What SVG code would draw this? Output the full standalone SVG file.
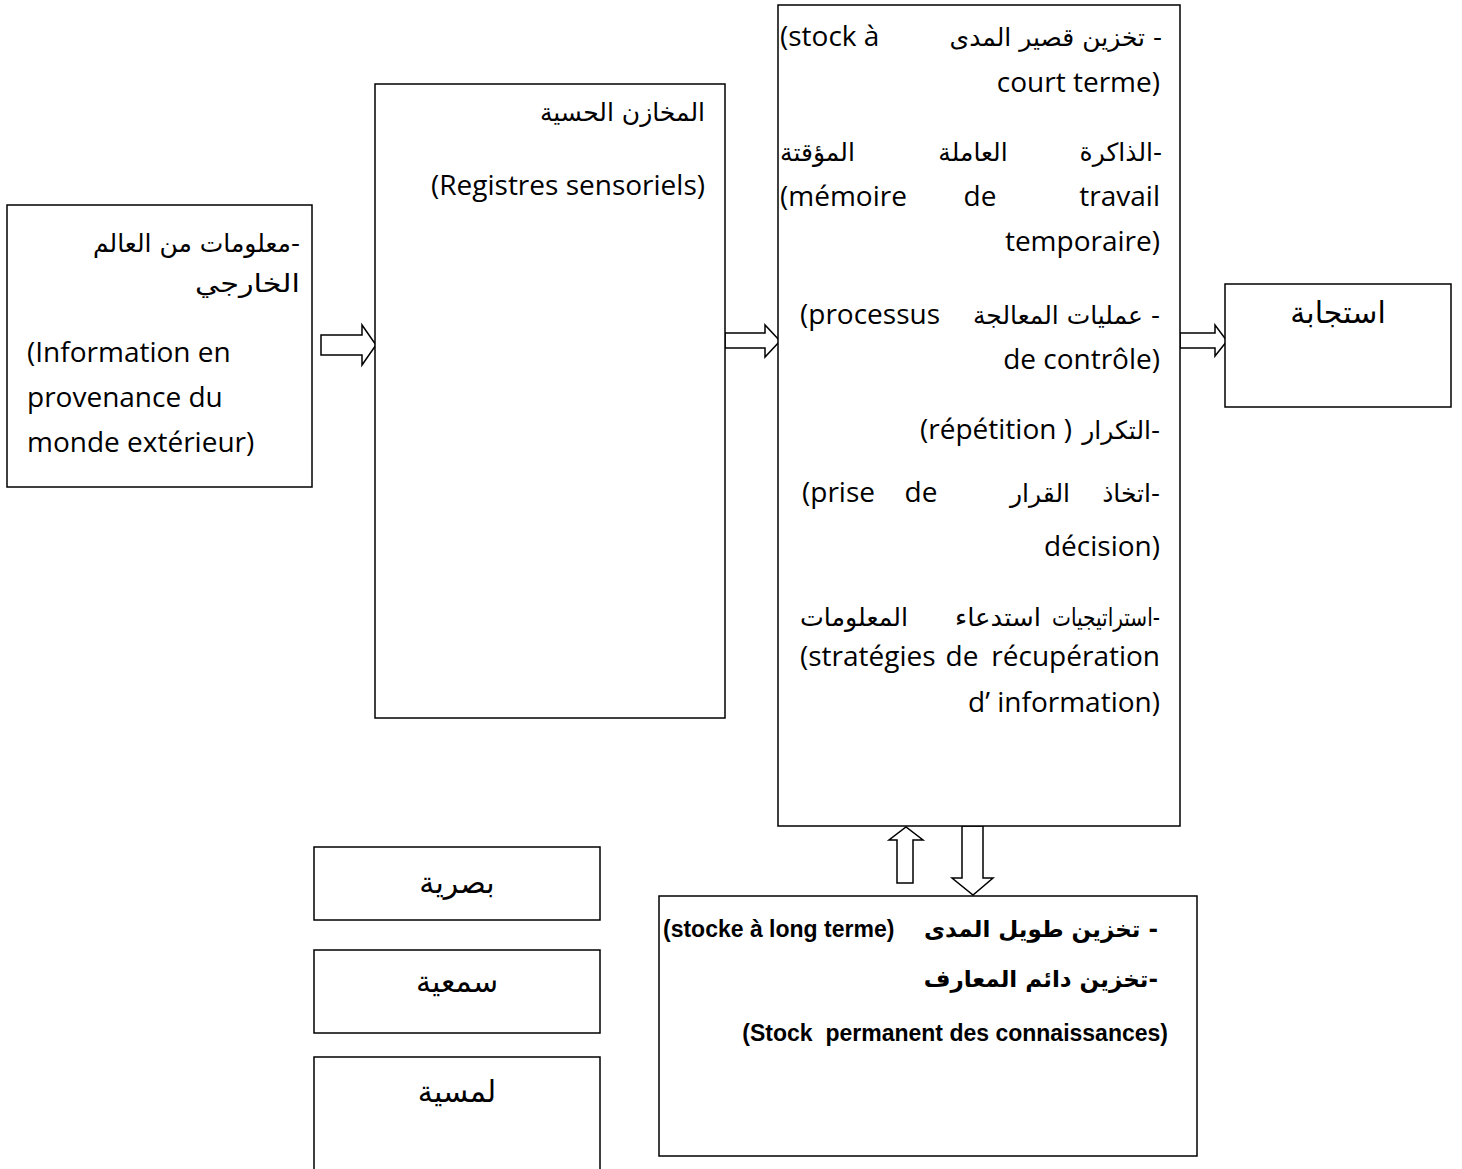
<svg xmlns="http://www.w3.org/2000/svg" width="1462" height="1169" viewBox="0 0 1462 1169">
<style>
.box{fill:#fff;stroke:#000;stroke-width:1.5}
.arr{fill:#fff;stroke:#000;stroke-width:1.5;stroke-linejoin:miter}
.la{font-family:"Open Sans","Liberation Sans",sans-serif;font-size:28px;fill:#000}
.ar{font-family:"DejaVu Sans",sans-serif;font-size:25px;fill:#000}
.arL{font-family:"DejaVu Sans",sans-serif;font-size:30px;fill:#000}
.bl{font-family:"Liberation Sans",Arial,sans-serif;font-size:23px;font-weight:bold;fill:#000}
.bar{font-family:"DejaVu Sans",sans-serif;font-size:23px;font-weight:bold;fill:#000}
.e{text-anchor:end}
.m{text-anchor:middle}
</style>
<rect width="1462" height="1169" fill="#fff"/>
<g id="connectors">
<polygon class="arr" points="321,335 362,335 362,325 376,345 362,365 362,355 321,355"/>
<polygon class="arr" points="725,333 765,333 765,325 780,341 765,357 765,348 725,348"/>
<polygon class="arr" points="1180,333 1215,333 1215,325 1227,341 1215,356 1215,348 1180,348"/>
<polygon class="arr" points="897,883 897,840 889,840 906,827 923,840 913,840 913,883"/>
<polygon class="arr" points="962,826 983,826 983,878 993,878 973,895 952,878 962,878"/>
</g>
<g id="node-info">
<rect class="box" x="7" y="205" width="305" height="282"/>
<text class="ar e" x="300" y="252">معلومات من العالم-</text>
<text class="ar e" x="300" y="292" textLength="105" lengthAdjust="spacingAndGlyphs">الخارجي</text>
<text class="la" x="27" y="362">(Information en</text>
<text class="la" x="27" y="407">provenance du</text>
<text class="la" x="27" y="452">monde extérieur)</text>
</g>
<g id="node-sensory">
<rect class="box" x="375" y="84" width="350" height="634"/>
<text class="ar e" x="705" y="121">المخازن الحسية</text>
<text class="la e" x="705" y="195">(Registres sensoriels)</text>
</g>
<g id="node-short-term">
<rect class="box" x="778" y="5" width="402" height="821"/>
<text class="la" x="780" y="46">(stock à</text>
<text class="ar e" x="1162" y="46">تخزين قصير المدى -</text>
<text class="la e" x="1160" y="92">court terme)</text>
<text class="ar" x="780" y="161">المؤقتة</text>
<text class="ar m" x="973" y="161">العاملة</text>
<text class="ar e" x="1162" y="161">الذاكرة-</text>
<text class="la" x="780" y="206">(mémoire</text>
<text class="la m" x="980" y="206">de</text>
<text class="la e" x="1160" y="206">travail</text>
<text class="la e" x="1160" y="251">temporaire)</text>
<text class="la" x="800" y="324">(processus</text>
<text class="ar e" x="1160" y="324">عمليات المعالجة -</text>
<text class="la e" x="1160" y="369">de contrôle)</text>
<text class="la" x="920" y="439">(répétition )</text>
<text class="ar e" x="1160" y="439">التكرار-</text>
<text class="la" x="802" y="502">(prise</text>
<text class="la m" x="921" y="502">de</text>
<text class="ar m" x="1040" y="502">القرار</text>
<text class="ar e" x="1160" y="502">اتخاذ-</text>
<text class="la e" x="1160" y="556">décision)</text>
<text class="ar" x="800" y="626" textLength="108" lengthAdjust="spacingAndGlyphs">المعلومات</text>
<text class="ar" x="955" y="626" textLength="86" lengthAdjust="spacingAndGlyphs">استدعاء</text>
<text class="ar" x="1052" y="626" textLength="108" lengthAdjust="spacingAndGlyphs">استراتيجيات-</text>
<text class="la" x="800" y="666">(stratégies</text>
<text class="la m" x="962" y="666">de</text>
<text class="la e" x="1160" y="666">récupération</text>
<text class="la e" x="1160" y="712">d’ information)</text>
</g>
<g id="node-response">
<rect class="box" x="1225" y="284" width="226" height="123"/>
<text class="arL m" x="1338" y="323">استجابة</text>
</g>
<g id="node-long-term">
<rect class="box" x="659" y="896" width="538" height="260"/>
<text class="bl" x="663" y="937">(stocke à long terme)</text>
<text class="bar e" x="1158" y="937">تخزين طويل المدى -</text>
<text class="bar e" x="1158" y="987">تخزين دائم المعارف-</text>
<text class="bl e" x="1168" y="1041" xml:space="preserve">(Stock  permanent des connaissances)</text>
</g>
<g id="node-visual">
<rect class="box" x="314" y="847" width="286" height="73"/>
<text class="arL m" x="457" y="893">بصرية</text>
</g>
<g id="node-auditory">
<rect class="box" x="314" y="950" width="286" height="83"/>
<text class="arL m" x="457" y="992">سمعية</text>
</g>
<g id="node-tactile">
<rect class="box" x="314" y="1057" width="286" height="130"/>
<text class="arL m" x="457" y="1102">لمسية</text>
</g>
</svg>
